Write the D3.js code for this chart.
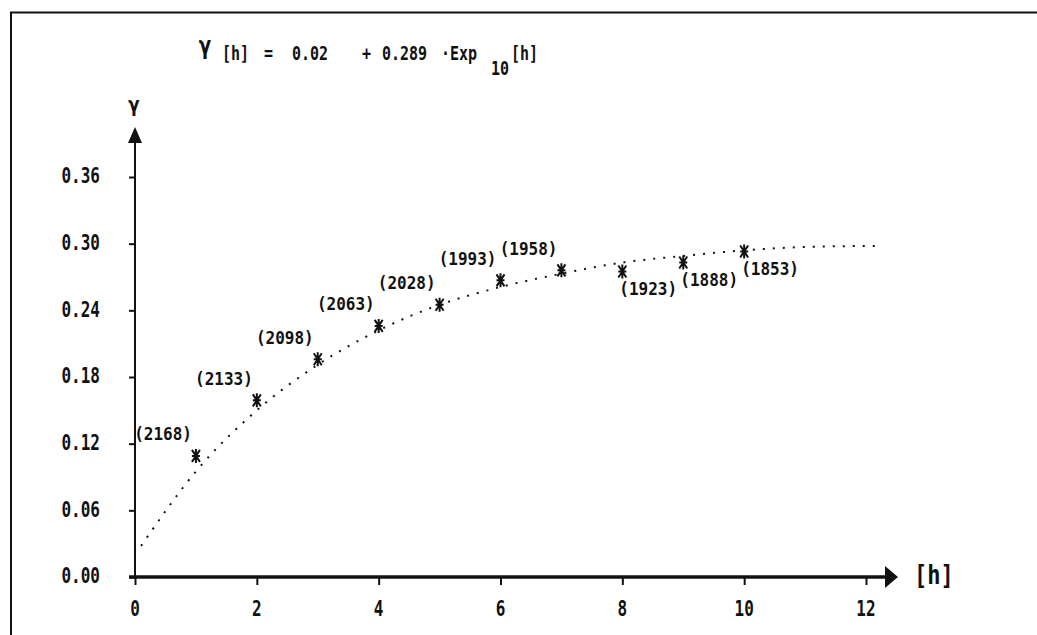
<!DOCTYPE html>
<html>
<head>
<meta charset="utf-8">
<script src="https://cdn.jsdelivr.net/npm/d3@7"></script>
<style>
  body { margin: 0; background: #fff; }
  text { font-family: "DejaVu Sans Mono", "Liberation Mono", monospace; fill: #111; }
</style>
</head>
<body>
<script>
var width = 1037,
    height = 635;

// lag distance h and semivariance gamma
var lags = [1, 2, 3, 4, 5, 6, 7, 8, 9, 10];
var gammas = [0.109, 0.159, 0.196, 0.226, 0.245, 0.267, 0.276, 0.275, 0.283, 0.293];
var pairLabels = ["(2168)", "(2133)", "(2098)", "(2063)", "(2028)", "(1993)", "(1958)", "(1923)", "(1888)", "(1853)"];

// fitted model
var fitLags = [0.1, 1, 2, 3, 4, 5, 6, 7, 8, 9, 10, 11, 12.2];
var fitGammas = [0.028, 0.095, 0.150, 0.191, 0.222, 0.245, 0.261, 0.273, 0.283, 0.289, 0.294, 0.297, 0.298];

var xTicks = [0, 2, 4, 6, 8, 10, 12];
var yTicks = [0, 0.06, 0.12, 0.18, 0.24, 0.30, 0.36];

var x = d3.scaleLinear().domain([0, 12]).range([135, 866]),
    y = d3.scaleLinear().domain([0, 0.36]).range([577, 177]);

var svg = d3.select("body").append("svg")
    .attr("width", width)
    .attr("height", height);

// frame
svg.append("path")
    .attr("d", "M11," + height + "V12.5H" + width)
    .attr("fill", "none")
    .attr("stroke", "#111")
    .attr("stroke-width", 2);

function label(x0, y0, str, opts) {
    opts = opts || {};
    return svg.append("text")
        .attr("transform", "translate(" + x0 + "," + y0 + ") scale(1," + (opts.sy || 1.35) + ")")
        .attr("dominant-baseline", "middle")
        .attr("text-anchor", opts.anchor || "start")
        .style("font-size", (opts.size || 16) + "px")
        .style("font-weight", opts.weight || "bold")
        .text(str);
}

// axes
var yAxis = svg.append("g")
    .attr("transform", "translate(" + x(0) + ",0)")
    .call(d3.axisLeft(y).tickValues(yTicks).tickSize(6).tickFormat(""));
yAxis.select(".domain").remove();
yAxis.selectAll("line").attr("stroke", "#111").attr("stroke-width", 2);

var xAxis = svg.append("g")
    .attr("transform", "translate(0," + y(0) + ")")
    .call(d3.axisBottom(x).tickValues(xTicks).tickSize(8).tickFormat(""));
xAxis.select(".domain").remove();
xAxis.selectAll("line").attr("stroke", "#111").attr("stroke-width", 2);

svg.append("line")
    .attr("x1", x(0)).attr("x2", x(0))
    .attr("y1", y(0)).attr("y2", 140)
    .attr("stroke", "#111").attr("stroke-width", 2);
svg.append("path")
    .attr("d", "M" + x(0) + ",127L" + (x(0) + 7) + ",143L" + (x(0) - 7) + ",143Z")
    .attr("fill", "#111");

svg.append("line")
    .attr("x1", x(0) - 6).attr("x2", 886)
    .attr("y1", y(0)).attr("y2", y(0))
    .attr("stroke", "#111").attr("stroke-width", 3.5);
svg.append("path")
    .attr("d", "M885," + (y(0) - 11) + "L898," + y(0) + "L885," + (y(0) + 11) + "Z")
    .attr("fill", "#111");

yTicks.forEach(function(t) {
    label(100, y(t), d3.format(".2f")(t), {anchor: "end", size: 16});
});
xTicks.forEach(function(t) {
    label(x(t), 610, String(t), {anchor: "middle", size: 16});
});

label(914, y(0) - 1, "[h]", {size: 22, sy: 1.2});
label(134, 106, "γ", {anchor: "middle", size: 20, sy: 1.1});

// title
label(205, 47, "γ", {anchor: "middle", size: 22, sy: 1.1});
label(222, 54, "[h]", {size: 15});
label(264, 54, "=", {size: 15});
label(292, 54, "0.02", {size: 15});
label(362, 54, "+", {size: 15});
label(382, 54, "0.289", {size: 15});
label(441, 54, "·Exp", {size: 15});
label(491, 69, "10", {size: 15});
label(511, 54, "[h]", {size: 15});

// fitted curve
var line = d3.line()
    .x(function(d, i) { return x(fitLags[i]); })
    .y(function(d) { return y(d); })
    .curve(d3.curveMonotoneX);

svg.append("path")
    .datum(fitGammas)
    .attr("d", line)
    .attr("fill", "none")
    .attr("stroke", "#111")
    .attr("stroke-width", 2)
    .attr("stroke-dasharray", "2 8");

// asterisk markers
var pts = svg.selectAll("g.pt")
    .data(lags)
  .enter().append("g")
    .attr("class", "pt")
    .attr("transform", function(d, i) { return "translate(" + x(d) + "," + y(gammas[i]) + ")"; });

pts.append("path")
    .attr("d", "M-4,-6L4,6M4,-6L-4,6M0,-7V7M-4,0H4")
    .attr("stroke", "#111")
    .attr("stroke-width", 2)
    .attr("fill", "none");

lags.forEach(function(d, i) {
    var px = x(d), py = y(gammas[i]);
    if (i < 7) label(px - 4, py - 21, pairLabels[i], {anchor: "end", size: 16, sy: 1.15});
    else label(px - 3, py + 18, pairLabels[i], {size: 16, sy: 1.15});
});
</script>
</body>
</html>
